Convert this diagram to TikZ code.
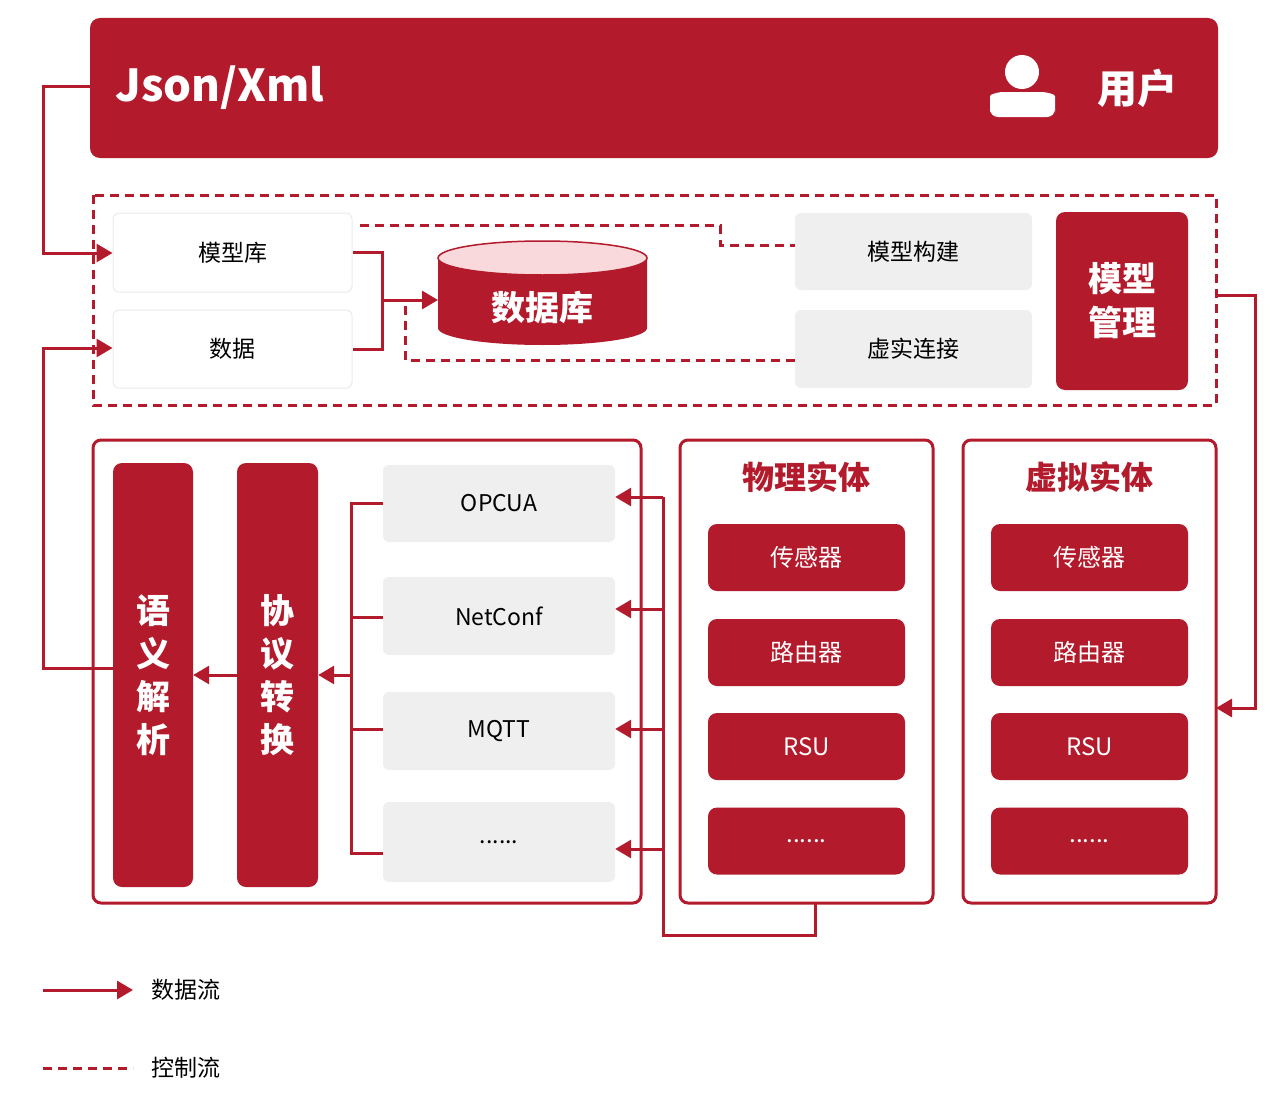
\documentclass[tikz,border=0pt]{standalone}
\usepackage{fontspec}
\setmainfont{Noto Sans CJK SC}
\usetikzlibrary{arrows.meta,shapes.geometric}
\definecolor{rd}{HTML}{B31A2B}
\definecolor{pk}{HTML}{F9D9DC}
\definecolor{gy}{HTML}{EFEFEF}
\newcommand{\sixdots}{......}
\begin{document}
\begin{tikzpicture}[x=1pt,y=-1pt,
  ln/.style={draw=rd,line width=3pt},
  ar/.style={ln,-{Triangle[length=16pt,width=18pt]}},
  ds/.style={draw=rd,line width=3pt,dash pattern=on 9pt off 6pt},
  wbox/.style={draw=black!8,line width=1pt,fill=white,rounded corners=6pt},
  gbox/.style={fill=gy,rounded corners=6pt},
  rbox/.style={fill=rd,rounded corners=9pt},
  wt/.style={text=white,font=\fontsize{24}{28}\selectfont},
  bt/.style={text=black,font=\fontsize{23}{28}\selectfont}]
\useasboundingbox (0,0) rectangle (1287,1116);
% top bar
\fill[rd,rounded corners=10pt] (90,18) rectangle (1218,158);
\node[coordinate] (top) at (90,86) {};
\node[anchor=west,text=white,font=\fontsize{44}{50}\selectfont\bfseries] (json) at (112,88) {Json/Xml};
\fill[white] (1022,72) circle (17);
\fill[white,rounded corners=8pt] (990,117) -- (990,104) .. controls (990,94) and (1000,92) .. (1010,92) -- (1034,92) .. controls (1045,92) and (1055,94) .. (1055,104) -- (1055,117) -- cycle;
\node[text=white,font=\fontsize{40}{46}\selectfont\bfseries] (user) at (1137,88) {用户};
% dashed box
\draw[ds] (93,195) rectangle (1216,405);
\node[coordinate] (dbr) at (1216,295) {};
\node[wbox,minimum width=239pt,minimum height=79pt,bt] (mxk) at (232.5,252.5) {模型库};
\node[wbox,minimum width=239pt,minimum height=78pt,bt] (sj) at (232.5,349) {数据};
\node[gbox,minimum width=237pt,minimum height=77pt,bt] (mxgj) at (913.5,251.5) {模型构建};
\node[gbox,minimum width=237pt,minimum height=78pt,bt] (xslj) at (913.5,349) {虚实连接};
\node[rbox,minimum width=132pt,minimum height=178pt,align=center,text=white,font=\fontsize{34}{44}\selectfont\bfseries] (mxgl) at (1122,301) {模型\\管理};
% cylinder
\fill[rd] (438,258) -- (438,328) arc[start angle=180,end angle=0,x radius=104.5,y radius=17] -- (647,258) -- cycle;
\filldraw[fill=pk,draw=rd,line width=1.5pt] (542.5,258) ellipse[x radius=104.5,y radius=17];
\node[text=white,font=\fontsize{34}{40}\selectfont\bfseries] (db) at (542.5,308) {数据库};
\node[coordinate] (dbl) at (438,300) {};
% connectors
\draw[ln] (mxk.east) -- (382,252.5) -- (382,349) -- (sj.east);
\draw[ar] (382,300) -- (dbl);
\draw[ds] (360,225) -- (720,225) -- (720,245) -- (mxgj.west |- 0,245);
\draw[ds] (xslj.west |- 0,360) -- (405,360) -- (405,302);
\draw[ar] (top) -- (43,86) -- (43,253) -- (mxk.west |- 0,253);
% bottom-left box
\draw[draw=rd,line width=3pt,rounded corners=8pt] (93,440) rectangle (641,903);
\node[rbox,minimum width=80pt,minimum height=424pt,align=center,text=white,font=\fontsize{34}{43}\selectfont\bfseries] (yy) at (153,675) {语\\义\\解\\析};
\node[rbox,minimum width=81pt,minimum height=424pt,align=center,text=white,font=\fontsize{34}{43}\selectfont\bfseries] (xy) at (277.5,675) {协\\议\\转\\换};
\node[gbox,minimum width=232pt,minimum height=77pt,bt] (p1) at (499,503.5) {OPCUA};
\node[gbox,minimum width=232pt,minimum height=78pt,bt] (p2) at (499,616) {NetConf};
\node[gbox,minimum width=232pt,minimum height=78pt,bt] (p3) at (499,731) {MQTT};
\node[gbox,minimum width=232pt,minimum height=80pt,bt] (p4) at (499,842) {\sixdots};
\draw[ar] (yy.west |- 0,668) -- (43,668) -- (43,348) -- (sj.west |- 0,348);
\draw[ln] (p1.west |- 0,503) -- (351,503) -- (351,853) -- (p4.west |- 0,853);
\draw[ln] (p2.west |- 0,617) -- (351,617);
\draw[ln] (p3.west |- 0,729) -- (351,729);
\draw[ar] (351,675) -- (xy.east |- 0,675);
\draw[ar] (xy.west |- 0,675) -- (yy.east |- 0,675);
% physical / virtual
\draw[draw=rd,line width=3pt,rounded corners=8pt] (680,440) rectangle (933,903);
\node[text=rd,font=\fontsize{32}{38}\selectfont\bfseries] (wl) at (806.5,477) {物理实体};
\draw[draw=rd,line width=3pt,rounded corners=8pt] (963,440) rectangle (1216,903);
\node[text=rd,font=\fontsize{32}{38}\selectfont\bfseries] (xn) at (1089.5,477) {虚拟实体};
\foreach \n/\y/\t in {1/557.5/传感器,2/652.5/路由器,3/746.5/RSU,4/841/\sixdots}{
  \node[rbox,minimum width=197pt,minimum height=67pt,wt] (a\n) at (806.5,\y) {\t};
  \node[rbox,minimum width=197pt,minimum height=67pt,wt] (b\n) at (1089.5,\y) {\t};
}
\node[coordinate] (wlb) at (815,903) {};
\draw[ln] (wlb) -- (815,935) -- (663,935) -- (663,497);
\draw[ar] (663,497) -- (p1.east |- 0,497);
\draw[ar] (663,609) -- (p2.east |- 0,609);
\draw[ar] (663,729) -- (p3.east |- 0,729);
\draw[ar] (663,849) -- (p4.east |- 0,849);
\draw[ar] (dbr) -- (1255,295) -- (1255,708) -- (1216,708);
% legend
\node[coordinate] (l1) at (43,990) {};
\node[anchor=west,bt] (t1) at (148,990) {数据流};
\draw[ar] (l1) -- (133,990);
\node[coordinate] (l2) at (43,1068) {};
\node[anchor=west,bt] (t2) at (148,1068) {控制流};
\draw[ds] (l2) -- (133,1068);
\end{tikzpicture}
\end{document}
